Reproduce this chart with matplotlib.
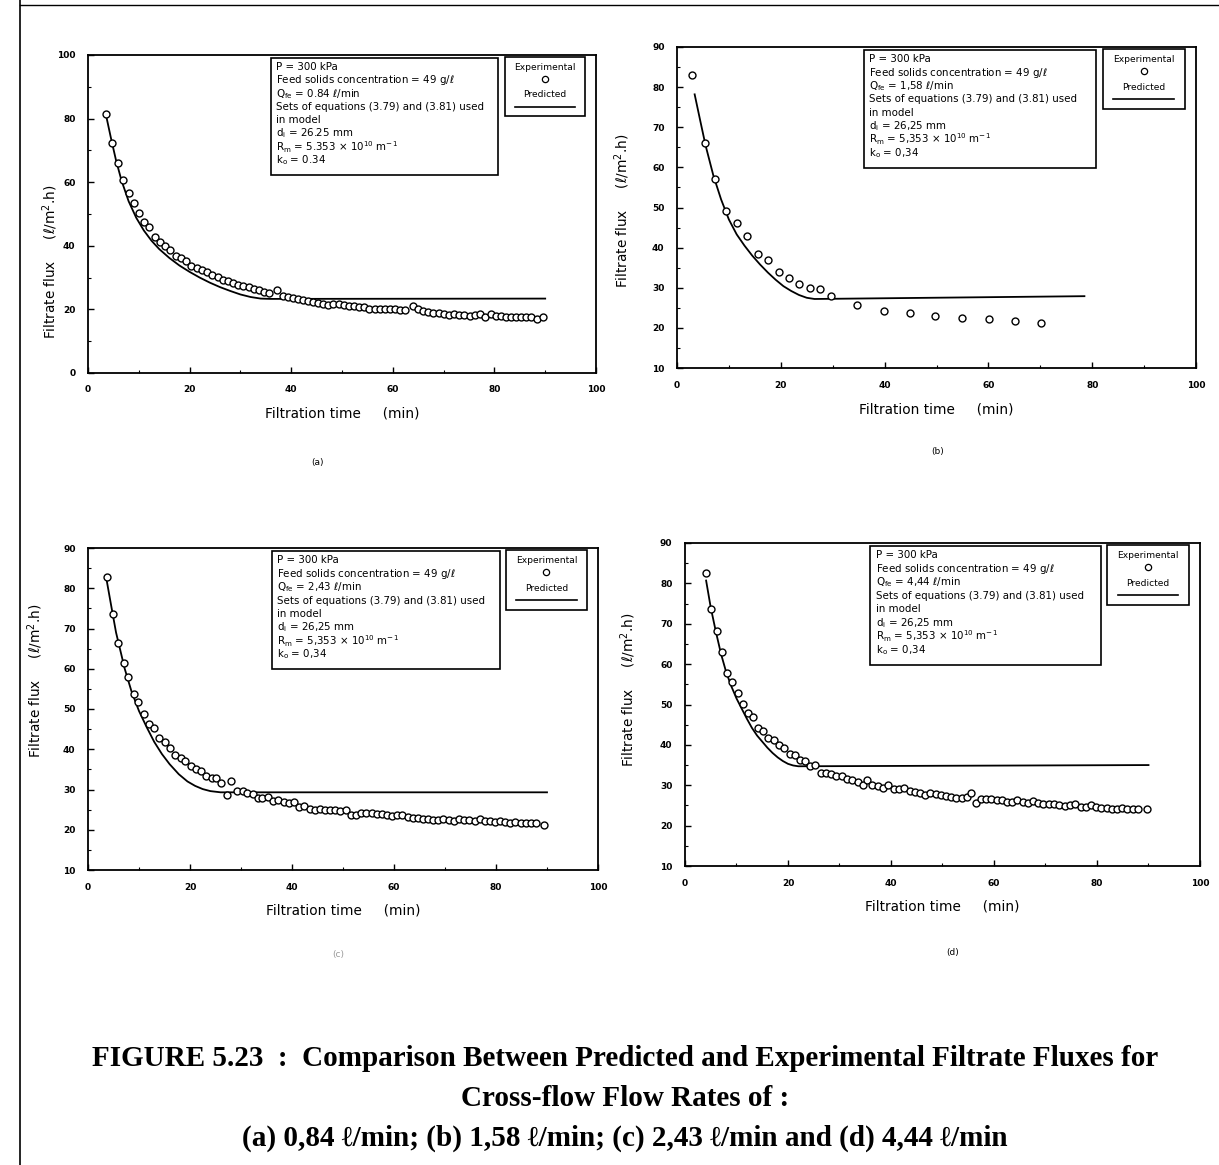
import matplotlib
matplotlib.use("Agg")
import matplotlib.pyplot as plt
from matplotlib.patches import Rectangle
from matplotlib.lines import Line2D
from matplotlib.ticker import MultipleLocator

plt.rcParams['font.family'] = ['DejaVu Sans']
plt.rcParams['mathtext.fontset'] = 'dejavusans'

# ---------------- data ----------------
# (a) Q = 0.84 l/min
A_time = [3.6, 4.8, 5.9, 6.9, 8.0, 9.0, 10.1, 11.1, 12.1, 13.1,
          14.1, 15.1, 16.2, 17.3, 18.3, 19.3, 20.3, 21.4, 22.4, 23.4,
          24.4, 25.5, 26.5, 27.5, 28.6, 29.6, 30.6, 31.7, 32.7, 33.7,
          34.7, 35.7, 37.3, 38.3, 39.3, 40.3, 41.3, 42.3, 43.3, 44.3,
          45.3, 46.3, 47.3, 48.3, 49.4, 50.4, 51.4, 52.4, 53.4, 54.4,
          55.4, 56.4, 57.4, 58.4, 59.4, 60.4, 61.4, 62.4, 64.0, 65.0,
          66.0, 67.0, 68.0, 69.1, 70.1, 71.1, 72.1, 73.1, 74.1, 75.1,
          76.1, 77.1, 78.1, 79.3, 80.3, 81.3, 82.3, 83.3, 84.3, 85.3,
          86.3, 87.3, 88.3, 89.6]
A_flux = [81.5, 72.3, 65.9, 60.7, 56.7, 53.5, 50.4, 47.6, 46.0, 42.9,
          41.3, 39.8, 38.7, 36.9, 36.1, 35.1, 33.7, 33.0, 32.5, 31.8,
          30.7, 30.2, 29.4, 28.9, 28.3, 27.8, 27.3, 27.1, 26.5, 26.1,
          25.5, 25.0, 26.1, 24.2, 24.0, 23.7, 23.4, 22.9, 22.6, 22.3,
          22.1, 21.8, 21.4, 21.6, 21.8, 21.4, 21.1, 21.1, 20.8, 20.6,
          20.2, 20.2, 20.0, 20.0, 20.0, 20.0, 19.8, 19.8, 21.1, 20.0,
          19.5, 19.2, 19.0, 18.8, 18.5, 18.2, 18.5, 18.2, 18.2, 18.0,
          18.2, 18.4, 17.5, 18.4, 18.0, 18.0, 17.7, 17.5, 17.5, 17.5,
          17.7, 17.5, 17.1, 17.5]
A_pred_time = [3.6, 4.5, 5.5, 6.6, 8.0, 9.5, 11.0, 12.5, 14.0, 16.0, 18.0,
               20.0, 22.0, 24.0, 26.0, 28.0, 30.0, 32.0, 34.0, 36.0, 90.0]
A_pred_flux = [80.7, 74.0, 67.0, 60.5, 54.0, 48.8, 44.8, 41.6, 39.0, 36.2, 33.8,
               31.8, 30.0, 28.4, 27.0, 25.8, 24.7, 23.9, 23.4, 23.3, 23.4]

# (b) Q = 1.58 l/min
B_time = [2.9, 5.3, 7.3, 9.5, 11.5, 13.5, 15.6, 17.6, 19.6, 21.6, 23.6,
          25.6, 27.6, 29.6, 34.7, 39.9, 44.8, 49.8, 54.9, 60.1, 65.1, 70.2]
B_flux = [82.9, 66.0, 57.0, 49.1, 46.1, 43.0, 38.5, 37.0, 34.0, 32.5, 31.0,
          30.0, 29.6, 27.9, 25.8, 24.3, 23.7, 22.9, 22.5, 22.3, 21.7, 21.1]
B_pred_time = [3.4, 4.5, 5.5, 7.0, 8.5, 10.0, 11.5, 13.0, 14.5, 16.0, 17.5,
               19.0, 20.5, 22.0, 23.5, 25.0, 26.5, 78.5]
B_pred_flux = [78.2, 71.5, 65.5, 58.0, 52.0, 47.0, 43.3, 40.5, 38.0, 35.8, 33.8,
               32.0, 30.4, 29.2, 28.2, 27.5, 27.2, 27.9]

# (c) Q = 2.43 l/min
C_time = [3.7, 4.9, 5.9, 7.0, 7.9, 9.0, 9.9, 11.0, 12.0, 13.0,
          14.0, 15.1, 16.0, 17.1, 18.2, 19.1, 20.1, 21.1, 22.1, 23.2,
          24.3, 25.1, 26.1, 27.2, 28.1, 29.2, 30.3, 31.2, 32.3, 33.3,
          34.2, 35.3, 36.3, 37.3, 38.4, 39.4, 40.4, 41.4, 42.4, 43.5,
          44.5, 45.4, 46.4, 47.5, 48.4, 49.5, 50.5, 51.5, 52.6, 53.6,
          54.6, 55.6, 56.6, 57.6, 58.6, 59.6, 60.6, 61.6, 62.7, 63.7,
          64.7, 65.7, 66.7, 67.7, 68.7, 69.7, 70.7, 71.7, 72.7, 73.8,
          74.8, 75.8, 76.8, 77.8, 78.8, 79.8, 80.8, 81.8, 82.8, 83.8,
          84.9, 85.9, 86.9, 87.9, 89.4]
C_flux = [82.9, 73.6, 66.4, 61.4, 57.9, 53.75, 51.8, 48.75, 46.25, 45.25,
          42.9, 41.7, 40.4, 38.6, 37.9, 37.1, 35.8, 35.0, 34.6, 33.3,
          32.9, 32.9, 31.5, 28.75, 32.1, 29.75, 29.75, 29.2, 29.0, 27.9,
          27.9, 28.2, 27.1, 27.3, 26.8, 26.7, 26.8, 25.6, 25.8, 25.25,
          24.9, 25.25, 24.9, 24.9, 24.9, 24.75, 24.9, 23.75, 23.75, 24.1,
          24.25, 24.1, 23.9, 23.9, 23.75, 23.3, 23.6, 23.6, 23.25, 22.9,
          22.9, 22.75, 22.75, 22.5, 22.5, 22.75, 22.3, 22.1, 22.6, 22.5,
          22.3, 22.2, 22.6, 22.1, 22.2, 21.9, 22.2, 21.9, 21.75, 21.9,
          21.75, 21.6, 21.6, 21.75, 21.25]
C_pred_time = [3.7, 4.5, 5.5, 7.2, 8.5, 10.0, 11.5, 13.0, 14.5, 16.0, 17.8,
               19.5, 21.0, 22.5, 24.0, 26.0, 90.0]
C_pred_flux = [81.7, 76.0, 69.0, 60.0, 54.5, 49.5, 45.5, 41.8, 38.8, 36.3, 33.8,
               32.0, 30.9, 30.1, 29.6, 29.3, 29.3]

# (d) Q = 4.44 l/min
D_time = [4.1, 5.1, 6.2, 7.1, 8.2, 9.1, 10.3, 11.2, 12.2, 13.3,
          14.2, 15.2, 16.2, 17.3, 18.3, 19.3, 20.3, 21.3, 22.3, 23.3,
          24.3, 25.3, 26.4, 27.4, 28.4, 29.4, 30.4, 31.5, 32.5, 33.5,
          34.5, 35.4, 36.4, 37.4, 38.5, 39.5, 40.5, 41.5, 42.5, 43.6,
          44.6, 45.6, 46.6, 47.6, 48.7, 49.7, 50.7, 51.7, 52.7, 53.8,
          54.8, 55.6, 56.5, 57.4, 58.4, 59.4, 60.5, 61.5, 62.5, 63.5,
          64.5, 65.6, 66.6, 67.6, 68.6, 69.6, 70.6, 71.7, 72.7, 73.7,
          74.7, 75.7, 76.8, 77.8, 78.8, 79.8, 80.8, 81.9, 82.9, 83.9,
          84.9, 85.9, 87.0, 88.0, 89.8]
D_flux = [82.5, 73.6, 68.2, 63.1, 57.8, 55.6, 52.8, 50.1, 47.8, 46.8,
          44.1, 43.5, 41.7, 41.2, 39.9, 39.2, 37.7, 37.4, 36.2, 35.95,
          34.8, 35.1, 33.1, 33.0, 32.7, 32.3, 32.3, 31.65, 31.3, 30.8,
          30.0, 31.3, 30.1, 29.7, 29.3, 30.0, 29.0, 29.0, 29.2, 28.6,
          28.35, 28.2, 27.6, 28.2, 27.8, 27.6, 27.35, 27.1, 26.9, 26.9,
          27.1, 28.0, 25.7, 26.7, 26.7, 26.5, 26.4, 26.4, 25.9, 25.9,
          26.4, 25.9, 25.7, 26.2, 25.7, 25.3, 25.3, 25.3, 25.1, 24.9,
          25.0, 25.3, 24.7, 24.7, 25.0, 24.6, 24.45, 24.3, 24.2, 24.2,
          24.45, 24.0, 24.2, 24.0, 24.0]
D_pred_time = [4.1, 5.0, 6.0, 7.0, 8.0, 9.0, 10.0, 11.0, 12.0, 13.0, 14.0,
               15.0, 16.0, 17.0, 18.0, 19.0, 20.0, 21.0, 22.0, 90.0]
D_pred_flux = [80.7, 74.0, 68.0, 62.5, 58.0, 54.5, 51.5, 49.0, 46.5, 44.2, 42.3,
               40.8, 39.3, 38.0, 36.9, 36.0, 35.3, 34.9, 34.7, 35.0]

# parameter box text for each run
flow_text = ["0.84", "1,58", "2,43", "4,44"]
di_text = ["26.25", "26,25", "26,25", "26,25"]
rm_text = ["5.353", "5,353", "5,353", "5,353"]
ko_text = ["0.34", "0,34", "0,34", "0,34"]
panel_tags = ["(a)", "(b)", "(c)", "(d)"]

x_ticks = [0, 20, 40, 60, 80, 100]
y_ticks_a = [0, 20, 40, 60, 80, 100]
y_ticks_bcd = [10, 20, 30, 40, 50, 60, 70, 80, 90]

# ---------------- figure ----------------
W, H = 1219, 1165
fig = plt.figure(figsize=(W / 100, H / 100), dpi=100)


def px_axes(left, right, top, bottom):
    return fig.add_axes([left / W, 1 - bottom / H, (right - left) / W, (bottom - top) / H])


def draw_panel(ax, t, q, tp, qp, ylim, yticks, k, ylabel_xy):
    ax.plot(t, q, linestyle='none', marker='o', ms=5.0, mfc='white',
            mec='black', mew=1.0, zorder=3)
    ax.plot(tp, qp, color='black', lw=1.3, zorder=2)
    ax.set_xlim(0, 100)
    ax.set_ylim(*ylim)
    ax.set_xticks(x_ticks)
    ax.set_yticks(yticks)
    ax.xaxis.set_minor_locator(MultipleLocator(10))
    ax.yaxis.set_minor_locator(MultipleLocator((yticks[1] - yticks[0]) / 2))
    ax.tick_params(which='major', direction='in', length=4, width=1,
                   labelsize=6.5, pad=9)
    ax.tick_params(which='minor', direction='in', length=2, width=0.8)
    for lab in ax.get_xticklabels() + ax.get_yticklabels():
        lab.set_fontweight('bold')
    for s in ax.spines.values():
        s.set_linewidth(1.3)
    ax.set_xlabel("Filtration time     (min)", fontsize=9.8, labelpad=9)
    ax.set_ylabel(r"Filtrate flux     ($\ell$/m$^{2}$.h)", fontsize=9.8)
    ax.yaxis.set_label_coords(*ylabel_xy)

    # parameter box
    bx0, by0, bx1, by1 = 0.36, 0.623, 0.808, 0.992
    ax.add_patch(Rectangle((bx0, by0), bx1 - bx0, by1 - by0, transform=ax.transAxes,
                           fill=False, lw=1.2, ec='black', clip_on=False, zorder=4))
    lines = [
        "P = 300 kPa",
        r"Feed solids concentration = 49 g/$\ell$",
        r"Q$_{\rm fe}$ = " + flow_text[k] + r" $\ell$/min",
        "Sets of equations (3.79) and (3.81) used",
        "in model",
        r"d$_{\rm i}$ = " + di_text[k] + " mm",
        r"R$_{\rm m}$ = " + rm_text[k] + r" $\times$ 10$^{10}$ m$^{-1}$",
        r"k$_{\rm o}$ = " + ko_text[k],
    ]
    step = (by1 - by0 - 0.035) / len(lines)
    for i, s in enumerate(lines):
        ax.text(bx0 + 0.01, by1 - 0.03 - i * step, s, transform=ax.transAxes,
                fontsize=7.4, va='center', ha='left', zorder=5)

    # key box
    lx0, ly0, lx1, ly1 = 0.82, 0.808, 0.978, 0.993
    cx = (lx0 + lx1) / 2
    ax.add_patch(Rectangle((lx0, ly0), lx1 - lx0, ly1 - ly0, transform=ax.transAxes,
                           fill=False, lw=1.2, ec='black', clip_on=False, zorder=4))
    ax.text(cx, 0.962, "Experimental", transform=ax.transAxes, fontsize=6.6,
            ha='center', va='center')
    ax.add_line(Line2D([cx], [0.925], transform=ax.transAxes, marker='o', ms=4.5,
                       mfc='white', mec='black', mew=0.9, linestyle='none'))
    ax.text(cx, 0.875, "Predicted", transform=ax.transAxes, fontsize=6.6,
            ha='center', va='center')
    ax.add_line(Line2D([lx0 + 0.02, lx1 - 0.02], [0.838, 0.838], transform=ax.transAxes,
                       color='black', lw=1.2))


ax_a = px_axes(88, 596, 55, 373)
draw_panel(ax_a, A_time, A_flux, A_pred_time, A_pred_flux, (0, 100), y_ticks_a, 0,
           (-0.055, 0.35))
ax_b = px_axes(677, 1196, 47, 368)
draw_panel(ax_b, B_time, B_flux, B_pred_time, B_pred_flux, (10, 90), y_ticks_bcd, 1,
           (-0.087, 0.49))
ax_c = px_axes(88, 598, 548, 870)
draw_panel(ax_c, C_time, C_flux, C_pred_time, C_pred_flux, (10, 90), y_ticks_bcd, 2,
           (-0.084, 0.587))
ax_d = px_axes(685, 1200, 543, 866)
draw_panel(ax_d, D_time, D_flux, D_pred_time, D_pred_flux, (10, 90), y_ticks_bcd, 3,
           (-0.091, 0.545))

# panel tags below each plot
for (x, y), tag in zip([(317, 462), (938, 452), (338, 955), (953, 952)], panel_tags):
    fig.text(x / W, 1 - y / H, tag, fontsize=6.5, ha='center', va='center',
             color='#999999' if tag == "(c)" else 'black')

# page frame
fig.add_artist(Line2D([20 / W, 20 / W], [0, 1], transform=fig.transFigure,
                      color='black', lw=1.2))
fig.add_artist(Line2D([20 / W, 1], [1 - 5 / H, 1 - 5 / H], transform=fig.transFigure,
                      color='black', lw=1.0))

# figure caption
cap_font = dict(family=['Liberation Serif', 'DejaVu Serif'], fontweight='bold',
                fontsize=21, ha='center', va='center')
fig.text(625 / W, 1 - 1058 / H,
         "FIGURE 5.23  :  Comparison Between Predicted and Experimental Filtrate Fluxes for",
         **cap_font)
fig.text(625 / W, 1 - 1098 / H, "Cross-flow Flow Rates of :", **cap_font)
fig.text(625 / W, 1 - 1138 / H,
         "(a) 0,84 \u2113/min; (b) 1,58 \u2113/min; (c) 2,43 \u2113/min and (d) 4,44 \u2113/min",
         **cap_font)

fig.savefig("out.png", dpi=100)
